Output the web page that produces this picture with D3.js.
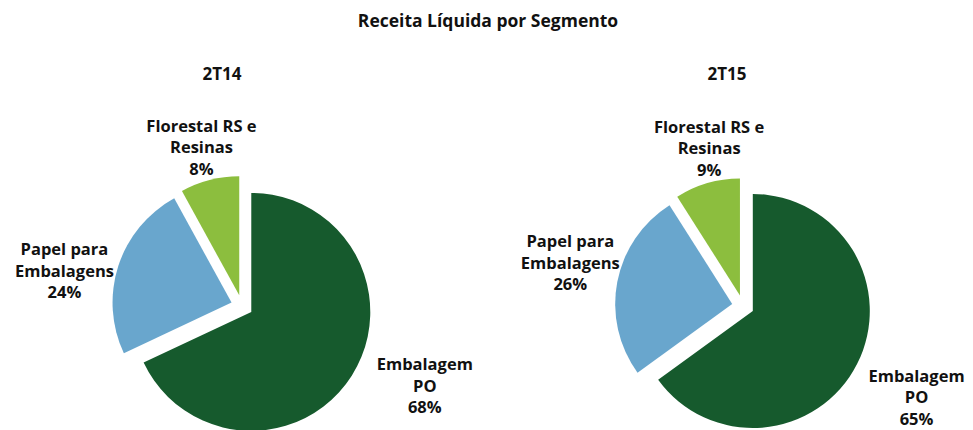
<!DOCTYPE html>
<html>
<head>
<meta charset="utf-8">
<script src="https://cdn.jsdelivr.net/npm/d3@7"></script>
<style>
  body { margin: 0; background: #fff; }
  #chart { width: 973px; height: 430px; }
  text { font-family: "Open Sans", "Noto Sans", sans-serif; font-weight: bold; fill: #111; }
</style>
</head>
<body>
<div id="chart"></div>
<script>
var categories = [["Embalagem", "PO"], ["Papel para", "Embalagens"], ["Florestal RS e", "Resinas"]];
var periods = ["2T14", "2T15"];
var values2T14 = [68, 24, 8];
var values2T15 = [65, 26, 9];
var colors = ["#165a2d", "#69a6cd", "#8cbe3e"];

var chart = document.getElementById("chart"),
    width = chart.offsetWidth,
    height = chart.offsetHeight,
    explode = 11,
    labelFactor = [1.68, 1.52, 1.37],
    lineHeight = 21.5,
    svg;

// center, radius and label angle nudges (degrees) for each pie
var pies = [
  {title: periods[0], values: values2T14, cx: 242, cy: 306, r: 119, tx: 222, nudge: [-8.5, -7, 0]},
  {title: periods[1], values: values2T15, cx: 743, cy: 306, r: 117, tx: 727, nudge: [1, 3, 4]}
];

svg = d3.select(chart)
  .append("svg")
  .attr("width", width)
  .attr("height", height);

svg.append("text")
  .attr("x", 488)
  .attr("y", 27)
  .attr("text-anchor", "middle")
  .style("font-size", "17.5px")
  .text("Receita Líquida por Segmento");

var pie = d3.pie().sort(null).startAngle(0).endAngle(2 * Math.PI);

pies.forEach(function(p) {
  var g = svg.append("g").attr("transform", "translate(" + p.cx + "," + p.cy + ")");
  var arc = d3.arc().innerRadius(0).outerRadius(p.r);

  svg.append("text")
    .attr("x", p.tx)
    .attr("y", 80)
    .attr("text-anchor", "middle")
    .style("font-size", "17px")
    .text(p.title);

  var slices = g.selectAll("g.slice")
    .data(pie(p.values))
    .enter()
    .append("g")
    .attr("class", "slice");

  slices.append("path")
    .attr("d", arc)
    .attr("fill", function(d, i) { return colors[i]; })
    .attr("transform", function(d) {
      var a = (d.startAngle + d.endAngle) / 2;
      return "translate(" + (Math.sin(a) * explode) + "," + (-Math.cos(a) * explode) + ")";
    });

  slices.append("text")
    .attr("text-anchor", "middle")
    .style("font-size", "16.5px")
    .each(function(d, i) {
      var a = (d.startAngle + d.endAngle) / 2 + p.nudge[i] * Math.PI / 180,
          dist = p.r * labelFactor[i],
          x = Math.sin(a) * dist,
          y = -Math.cos(a) * dist,
          lines = categories[i].concat([d.data + "%"]),
          t = d3.select(this);
      lines.forEach(function(line, k) {
        t.append("tspan")
          .attr("x", x)
          .attr("y", y + (k - 1) * lineHeight + 5)
          .text(line);
      });
    });
});
</script>
</body>
</html>
